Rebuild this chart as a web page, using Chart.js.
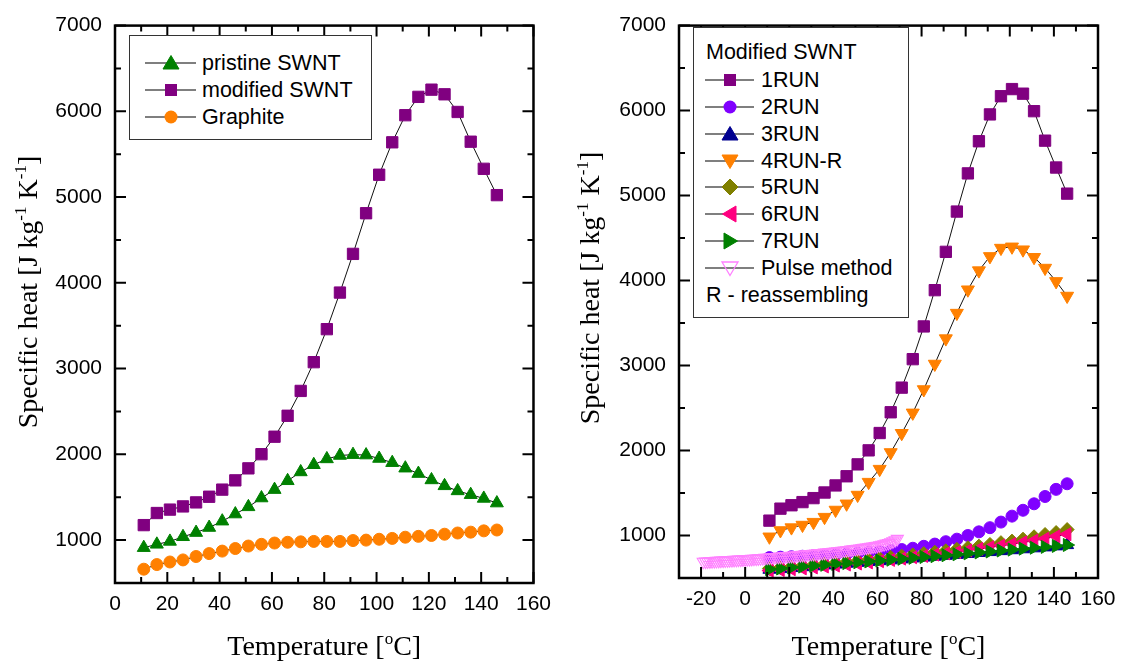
<!DOCTYPE html>
<html><head><meta charset="utf-8">
<script src="https://cdn.jsdelivr.net/npm/chart.js@4.4.1/dist/chart.umd.min.js"></script>
<style>
html,body{margin:0;padding:0;background:#fff;width:1125px;height:666px;overflow:hidden;position:relative;}
.cw{position:absolute;top:0;height:666px;}
.legend{position:absolute;border:1.5px solid #333;background:#fff;box-sizing:border-box;font-family:"Liberation Sans",Arial,sans-serif;font-size:21.5px;color:#000;}
.row{position:absolute;left:0;height:28px;line-height:28px;white-space:nowrap;}
.row svg{position:absolute;top:0;}
.row span{position:absolute;top:0;}
</style></head><body>
<div class="cw" style="left:0;width:560px"><canvas id="c1" width="560" height="666"></canvas></div>
<div class="cw" style="left:560px;width:565px"><canvas id="c2" width="565" height="666"></canvas></div>
<div id="leg1" class="legend" style="left:129px;top:35px;width:243px;height:105px"></div>
<div id="leg2" class="legend" style="left:693px;top:27px;width:216px;height:291px"></div>
<script>
// ---------- data ----------
const temperature = [11,16,21,26,31,36,41,46,51,56,61,66,71,76,81,86,91,96,101,106,111,116,121,126,131,136,141,146];
const pristineSWNT = [912,951,985,1039,1088,1147,1221,1304,1388,1491,1589,1692,1795,1879,1947,1987,1997,1992,1952,1903,1839,1776,1702,1633,1574,1530,1486,1432];
const modifiedSWNT = [1175,1316,1356,1393,1440,1506,1589,1697,1837,2002,2206,2450,2740,3075,3460,3887,4338,4812,5261,5639,5955,6169,6253,6199,5993,5646,5330,5023];
const graphite = [661,715,745,769,809,843,872,902,931,951,966,975,980,985,985,985,995,1000,1010,1020,1034,1044,1054,1069,1083,1093,1108,1118];

const run1 = [1175,1316,1356,1393,1440,1506,1589,1697,1837,2002,2206,2450,2740,3075,3460,3887,4338,4812,5261,5639,5955,6169,6253,6199,5993,5646,5330,5023];
const run2 = [740,745,750,756,762,768,775,782,790,800,810,822,835,850,873,899,927,957,1000,1043,1092,1158,1228,1297,1373,1459,1543,1609];
const run3 = [600,608,620,630,640,651,661,671,681,691,701,711,722,733,743,753,764,775,786,797,808,819,830,841,852,863,875,890];
const run4R = [985,1059,1093,1123,1157,1216,1300,1373,1476,1628,1781,1977,2203,2443,2718,3018,3317,3617,3892,4117,4284,4382,4397,4363,4274,4147,3990,3818];
const run5 = [612,622,632,642,653,664,676,688,700,714,728,742,757,772,787,803,820,837,856,875,895,916,934,957,985,1012,1035,1070];
const run6 = [588,594,603,613,624,635,646,658,670,683,698,713,728,744,759,775,790,805,824,843,862,882,900,920,940,962,990,1015];
const run7 = [603,612,624,634,644,655,665,675,685,695,705,715,726,737,747,757,768,779,790,801,812,823,834,845,856,866,877,888];
const pulseTemp = [-19,-18,-17,-16,-15,-14,-13,-12,-11,-10,-9,-8,-7,-6,-5,-4,-3,-2,-1,0,1,2,3,4,5,6,7,8,9,10,11,12,13,14,15,16,17,18,19,20,21,22,23,24,25,26,27,28,29,30,31,32,33,34,35,36,37,38,39,40,41,42,43,44,45,46,47,48,49,50,51,52,53,54,55,56,57,58,59,60,61,62,63,64,65,66,67,68,69];
const pulse = [692,693,695,696,698,699,701,702,704,705,707,708,710,711,713,714,716,717,719,720,722,723,725,727,729,731,733,735,737,739,741,743,745,747,749,751,753,755,757,759,761,763,765,768,770,773,775,778,780,783,785,788,790,793,795,798,800,803,806,809,812,815,818,821,824,827,830,834,837,841,844,848,851,855,858,862,866,870,875,880,885,891,897,904,912,921,932,945,960];

const leftXTicks = [0,20,40,60,80,100,120,140,160];
const leftXMinor = [10,30,50,70,90,110,130,150];
const rightXTicks = [-20,0,20,40,60,80,100,120,140,160];
const rightXMinor = [-10,10,30,50,70,90,110,130,150];
const yTicks = [1000,2000,3000,4000,5000,6000,7000];
const yMinor = [1500,2500,3500,4500,5500,6500];

// ---------- styles ----------
const C = {green:'#008000',purple:'#800080',orange:'#ff8000',violet:'#8000ff',navy:'#000090',olive:'#808000',pink:'#ff0080',pulse:'#ff80ff'};

function pts(xs, ys){ return xs.map((x,i)=>({x:x,y:ys[i]})); }
function ds(label, xs, ys, color, style, radius, rot, open, idx){
  return {label, data:pts(xs,ys), showLine:true, borderColor: open ? color : '#111', borderWidth:1,
    pointStyle:style, pointRadius:radius, pointHoverRadius:radius, pointRotation:rot||0,
    pointBackgroundColor: open ? 'rgba(0,0,0,0)' : color, pointBorderColor:color,
    pointBorderWidth: open ? 1.1 : 1, order:-idx};
}

function drawRich(ctx, parts, size){
  const big = size+'px "Liberation Serif", "Times New Roman", serif';
  const small = Math.round(size*0.62)+'px "Liberation Serif", "Times New Roman", serif';
  let w = 0;
  parts.forEach(p=>{ ctx.font = p.sup?small:big; p.w = ctx.measureText(p.t).width; w += p.w; });
  let x = -w/2;
  parts.forEach(p=>{ ctx.font = p.sup?small:big; ctx.fillText(p.t, x, p.sup ? -size*0.38 : 0); x += p.w; });
}

function framePlugin(o){
  return {id:'frame'+o.id, afterDraw(chart){
    const ctx = chart.ctx, a = chart.chartArea, x = chart.scales.x, y = chart.scales.y;
    ctx.save();
    ctx.strokeStyle = '#000';
    ctx.lineWidth = 2;
    ctx.beginPath();
    const tick = (vals, len, horiz)=>vals.forEach(v=>{
      if(horiz){ const p = x.getPixelForValue(v);
        ctx.moveTo(p,a.bottom); ctx.lineTo(p,a.bottom-len); ctx.moveTo(p,a.top); ctx.lineTo(p,a.top+len);
      } else { const p = y.getPixelForValue(v);
        ctx.moveTo(a.left,p); ctx.lineTo(a.left+len,p); ctx.moveTo(a.right,p); ctx.lineTo(a.right-len,p);
      }
    });
    tick(o.xMajor, 11, true); tick(o.xMinor, 6, true);
    tick(yTicks, 11, false); tick(yMinor, 6, false);
    ctx.stroke();
    ctx.lineWidth = 2.5;
    ctx.strokeRect(a.left, a.top, a.right-a.left, a.bottom-a.top);
    ctx.fillStyle = '#000';
    ctx.textBaseline = 'alphabetic';
    ctx.save();
    ctx.translate((a.left+a.right)/2, o.xTitleBase);
    drawRich(ctx, [{t:'Temperature ['},{t:'o',sup:true},{t:'C]'}], 28);
    ctx.restore();
    ctx.save();
    ctx.translate(o.yTitleBase, o.yTitleCenter);
    ctx.rotate(-Math.PI/2);
    drawRich(ctx, [{t:'Specific heat [J kg'},{t:'-1',sup:true},{t:' K'},{t:'-1',sup:true},{t:']'}], 28);
    ctx.restore();
    ctx.restore();
  }};
}

function makeChart(id, o){
  const tickFont = {family:'"Liberation Sans", Arial, sans-serif', size:21};
  return new Chart(document.getElementById(id), {
    type:'scatter',
    data:{datasets:o.datasets},
    options:{
      responsive:false, animation:false, devicePixelRatio:1,
      layout:{padding:{top:o.padTop, right:o.padRight, left:0, bottom:0}},
      plugins:{legend:{display:false}, tooltip:{enabled:false}},
      scales:{
        x:{type:'linear', min:o.xMin, max:160,
           afterFit(s){ s.height = o.xAxisH; },
           afterBuildTicks(s){ s.ticks = o.xMajor.map(v=>({value:v})); },
           grid:{display:false, drawTicks:false, tickLength:0}, border:{display:false},
           ticks:{padding:9, font:tickFont, color:'#000', maxRotation:0, autoSkip:false, callback:v=>String(v)}},
        y:{type:'linear', min:500, max:7000,
           afterFit(s){ s.width = o.yAxisW; },
           afterBuildTicks(s){ s.ticks = yTicks.map(v=>({value:v})); },
           grid:{display:false, drawTicks:false, tickLength:0}, border:{display:false},
           ticks:{padding:13, font:tickFont, color:'#000', autoSkip:false, callback:v=>String(v)}}
      }
    },
    plugins:[framePlugin(o)]
  });
}

makeChart('c1', {id:1, xMin:0, padTop:22, padRight:21, xAxisH:83, yAxisW:115,
  xMajor:leftXTicks, xMinor:leftXMinor, xTitleBase:655, yTitleBase:37, yTitleCenter:292,
  datasets:[
    ds('pristine SWNT', temperature, pristineSWNT, C.green, 'triangle', 7.5, 0, false, 0),
    ds('modified SWNT', temperature, modifiedSWNT, C.purple, 'rect', 8, 0, false, 1),
    ds('Graphite', temperature, graphite, C.orange, 'circle', 6, 0, false, 2)
  ]});

makeChart('c2', {id:2, xMin:-30, padTop:14, padRight:27, xAxisH:88, yAxisW:119,
  xMajor:rightXTicks, xMinor:rightXMinor, xTitleBase:655, yTitleBase:39, yTitleCenter:288,
  datasets:[
    ds('1RUN', temperature, run1, C.purple, 'rect', 8, 0, false, 0),
    ds('2RUN', temperature, run2, C.violet, 'circle', 6, 0, false, 1),
    ds('3RUN', temperature, run3, C.navy, 'triangle', 7.5, 0, false, 2),
    ds('4RUN-R', temperature, run4R, C.orange, 'triangle', 7.5, 180, false, 3),
    ds('5RUN', temperature, run5, C.olive, 'rectRot', 7, 0, false, 4),
    ds('6RUN', temperature, run6, C.pink, 'triangle', 7.5, 270, false, 5),
    ds('7RUN', temperature, run7, C.green, 'triangle', 7.5, 90, false, 6),
    ds('Pulse method', pulseTemp, pulse, C.pulse, 'triangle', 7, 180, true, 7)
  ]});

// ---------- legends ----------
function icon(shape, color, open, lineL, lineR, cx){
  const cy = 14;
  let m = '';
  const fill = open ? 'none' : color;
  const tri = (pts)=>`<polygon points="${pts.map(p=>(cx+p[0])+','+(cy+p[1])).join(' ')}" fill="${fill}" stroke="${color}" stroke-width="${open?1.3:1}"/>`;
  if(shape==='square') m = `<rect x="${cx-6}" y="${cy-6}" width="12" height="12" fill="${color}"/>`;
  else if(shape==='circle') m = `<circle cx="${cx}" cy="${cy}" r="6.5" fill="${color}"/>`;
  else if(shape==='up') m = tri([[0,-7.5],[8,6],[-8,6]]);
  else if(shape==='down') m = tri([[0,7.5],[8,-6],[-8,-6]]);
  else if(shape==='left') m = tri([[-7.5,0],[6,-8],[6,8]]);
  else if(shape==='right') m = tri([[7.5,0],[-6,-8],[-6,8]]);
  else if(shape==='diamond') m = tri([[0,-8],[8,0],[0,8],[-8,0]]);
  return `<svg width="${lineR+2}" height="28" style="left:0"><line x1="${lineL}" y1="${cy}" x2="${lineR}" y2="${cy}" stroke="#555" stroke-width="1.3"/>${m}</svg>`;
}
function buildLegend(el, rows, lineL, lineR, cx, textX){
  el.innerHTML = rows.map(r=>{
    const top = r.c - 14;
    if(!r.shape) return `<div class="row" style="top:${top}px"><span style="left:${r.x}px">${r.label}</span></div>`;
    return `<div class="row" style="top:${top}px">${icon(r.shape,r.color,r.open,lineL,lineR,cx)}<span style="left:${textX}px">${r.label}</span></div>`;
  }).join('');
}
buildLegend(document.getElementById('leg1'), [
  {c:27, shape:'up', color:C.green, label:'pristine SWNT'},
  {c:54, shape:'square', color:C.purple, label:'modified SWNT'},
  {c:81, shape:'circle', color:C.orange, label:'Graphite'}
], 15, 66, 41, 72);
buildLegend(document.getElementById('leg2'), [
  {c:24, x:12, label:'Modified SWNT'},
  {c:52, shape:'square', color:C.purple, label:'1RUN'},
  {c:79, shape:'circle', color:C.violet, label:'2RUN'},
  {c:106, shape:'up', color:C.navy, label:'3RUN'},
  {c:133, shape:'down', color:C.orange, label:'4RUN-R'},
  {c:159, shape:'diamond', color:C.olive, label:'5RUN'},
  {c:186, shape:'left', color:C.pink, label:'6RUN'},
  {c:213, shape:'right', color:C.green, label:'7RUN'},
  {c:240, shape:'down', color:C.pulse, open:true, label:'Pulse method'},
  {c:267, x:12, label:'R - reassembling'}
], 11, 60, 36, 67);
</script>
</body></html>
